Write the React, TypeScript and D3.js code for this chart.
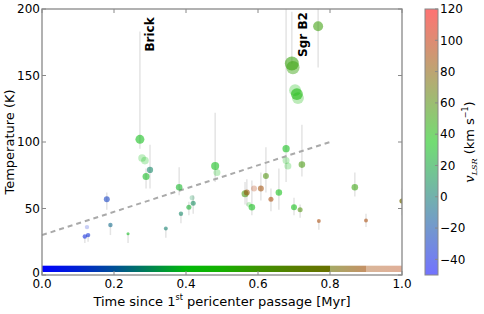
import React from 'react';
import * as d3 from 'd3';

// columns: time [Myr], temperature [K], v_LSR [km/s], T low, T high, marker size, weight
const clouds: [number, number, number, number, number, number, number][] = [
  [0.180, 57, -28, 49, 62, 18, 1],
  [0.125, 36, -35, 36, 36, 10, 0.4],
  [0.119, 29, -38, 24, 29, 10, 1],
  [0.128, 30, -35, 25, 30, 10, 1],
  [0.190, 37.6, -8, 30, 38, 10, 1],
  [0.239, 31, 30, 24, 31, 5, 1],
  [0.272, 102, 32, 95, 183, 41, 1],
  [0.278, 88, 32, 88, 88, 30, 0.45],
  [0.286, 86, 32, 86, 86, 30, 0.45],
  [0.300, 79, 5, 65, 98, 20, 1],
  [0.289, 74, 30, 65, 80, 25, 1],
  [0.344, 35, 2, 28, 35, 8, 1],
  [0.381, 66, 28, 60, 81, 22, 1],
  [0.386, 46, 5, 39, 46, 10, 1],
  [0.408, 51, 25, 45, 55, 13, 1],
  [0.417, 58, 12, 58, 58, 13, 0.45],
  [0.420, 54, 8, 46, 60, 13, 1],
  [0.481, 82, 32, 70, 122, 33, 1],
  [0.486, 77, 32, 77, 77, 25, 0.45],
  [0.564, 61, 55, 53, 70, 25, 1],
  [0.569, 62, 85, 52, 72, 18, 1],
  [0.575, 53, 35, 53, 53, 13, 0.4],
  [0.583, 51, 32, 45, 71, 22, 1],
  [0.589, 65, 95, 65, 65, 18, 0.5],
  [0.608, 65, 88, 56, 77, 18, 1],
  [0.622, 74.5, 58, 62, 96, 18, 1],
  [0.636, 57, 90, 48, 65, 13, 1],
  [0.658, 62, 33, 49, 80, 22, 1],
  [0.678, 95, 32, 70, 200, 27, 1],
  [0.678, 86, 32, 86, 86, 25, 0.45],
  [0.683, 82, 32, 82, 82, 25, 0.45],
  [0.700, 51, 33, 45, 58, 18, 1],
  [0.717, 49, 58, 43, 53, 13, 1],
  [0.722, 83, 55, 74, 113, 22, 1],
  [0.769, 40.6, 90, 34, 41, 8, 1],
  [0.869, 66, 50, 59, 77, 22, 1],
  [0.900, 41, 90, 36, 46, 8, 1],
  [1.000, 55.6, 75, 45, 65, 13, 1],
  [1.000, 55.6, 70, 55.6, 55.6, 13, 0.6],
  [0.694, 159, 50, 159, 198, 100, 1],
  [0.697, 156, 50, 156, 156, 90, 0.8],
  [0.703, 139, 38, 139, 139, 73, 0.5],
  [0.711, 133, 40, 133, 133, 73, 0.5],
  [0.708, 136, 40, 136, 136, 73, 1],
  [0.767, 187, 52, 156, 200, 51, 1],
];

// linear trend (dashed)
const trendTime = [0, 0.8];
const trendTemp = [30, 100];

// model v_LSR along the orbit (bottom strip)
const stripTime = [0, 0.1, 0.2, 0.3, 0.35, 0.4, 0.5, 0.6, 0.7, 0.8, 0.9, 1.0];
const stripVel = [-50, -35, -15, 8, 20, 32, 42, 55, 64, 70, 88, 95];
const stripSegments: [number, number, number][] = [
  [0, 0.8, 1],
  [0.8, 0.9, 0.6],
  [0.9, 1.0, 0.4],
];

const labels: [string, number, number][] = [
  ['Brick', 0.311, 168],
  ['Sgr B2', 0.736, 164],
];

const xTicks = [0, 0.2, 0.4, 0.6, 0.8, 1.0];
const yTicks = [0, 50, 100, 150, 200];
const cbTicks = [-40, -20, 0, 20, 40, 60, 80, 100, 120];

const W = 484, H = 314;
const m = { left: 42, right: 402, top: 9, bottom: 275 };

const App = () => {
  const x = d3.scaleLinear().domain([0, 1]).range([m.left, m.right]);
  const y = d3.scaleLinear().domain([0, 200]).range([m.bottom, m.top]);
  const r = d3.scaleSqrt().domain([0, 100]).range([0, 7]);
  const cmap = d3.scaleLinear<string>().domain([-50, 35, 120]).range(['#0000ff', '#00c000', '#ff0000']);
  const cbY = d3.scaleLinear().domain([-50, 120]).range([m.bottom, m.top]);
  const cbX0 = 425, cbX1 = 438;

  const trend = d3.line<number>().x((d, i) => x(trendTime[i])).y(d => y(d));
  const axisColor = '#888';
  const font = 'DejaVu Sans, sans-serif';

  return (
    <svg width={W} height={H} style={{ position: 'absolute', left: 0, top: 0, background: '#fff' }} fontFamily={font}>
      <defs>
        <clipPath id="plot">
          <rect x={m.left} y={m.top} width={m.right - m.left} height={m.bottom - m.top} />
        </clipPath>
        <linearGradient id="strip" gradientUnits="userSpaceOnUse" x1={x(0)} x2={x(1)} y1={0} y2={0}>
          {stripTime.map((t, i) => (
            <stop key={i} offset={t} stopColor={cmap(stripVel[i])} />
          ))}
        </linearGradient>
        <linearGradient id="cbar" x1={0} x2={0} y1={1} y2={0}>
          {d3.range(-50, 121, 5).map(v => (
            <stop key={v} offset={(v + 50) / 170} stopColor={cmap(v)} />
          ))}
        </linearGradient>
      </defs>

      <g clipPath="url(#plot)">
        {stripSegments.map(([a, b, op], i) => (
          <rect key={i} x={x(a)} width={x(b) - x(a)} y={y(7)} height={y(0) - y(7) - 3}
            fill="url(#strip)" opacity={op} />
        ))}
        {clouds.map((c, i) => (
          c[4] > c[3] ? <line key={'e' + i} x1={x(c[0])} x2={x(c[0])} y1={y(c[3])} y2={y(c[4])}
            stroke="#e4e4e4" strokeWidth={1.5} /> : null
        ))}
        <path d={trend(trendTemp) || ''} fill="none" stroke="#aaa" strokeWidth={2} strokeDasharray="5,4" />
        {clouds.map((c, i) => (
          <circle key={'c' + i} cx={x(c[0])} cy={y(c[1])} r={r(c[5])}
            fill={cmap(c[2])} fillOpacity={0.55 * c[6]} />
        ))}
      </g>

      {labels.map(([t, tx, ty]) => (
        <text key={t} transform={`translate(${x(tx)},${y(ty)}) rotate(-90)`} fontSize={12}
          fontWeight="bold" fill="#000">{t}</text>
      ))}

      <rect x={m.left} y={m.top} width={m.right - m.left} height={m.bottom - m.top}
        fill="none" stroke={axisColor} strokeWidth={1.3} />

      {xTicks.map(t => (
        <g key={'x' + t}>
          <line x1={x(t)} x2={x(t)} y1={m.bottom} y2={m.bottom - 4} stroke={axisColor} />
          <line x1={x(t)} x2={x(t)} y1={m.top} y2={m.top + 4} stroke={axisColor} />
          <text x={x(t)} y={m.bottom + 13} fontSize={12} textAnchor="middle">{d3.format('.1f')(t)}</text>
        </g>
      ))}
      {yTicks.map(t => (
        <g key={'y' + t}>
          <line x1={m.left} x2={m.left + 4} y1={y(t)} y2={y(t)} stroke={axisColor} />
          <line x1={m.right} x2={m.right - 4} y1={y(t)} y2={y(t)} stroke={axisColor} />
          <text x={m.left - 2} y={y(t)} dy={t === 0 ? '0.2em' : '0.36em'} fontSize={12} textAnchor="end">{t}</text>
        </g>
      ))}

      <text transform={`translate(14,${(m.top + m.bottom) / 2}) rotate(-90)`} fontSize={13} textAnchor="middle">
        Temperature (K)
      </text>
      <text x={(m.left + m.right) / 2} y={306} fontSize={13} textAnchor="middle">
        Time since 1<tspan fontSize={8} dy={-6}>st</tspan><tspan dy={6}> pericenter passage [Myr]</tspan>
      </text>

      <rect x={cbX0} y={m.top} width={cbX1 - cbX0} height={m.bottom - m.top} fill="url(#cbar)" opacity={0.55} />
      <rect x={cbX0} y={m.top} width={cbX1 - cbX0} height={m.bottom - m.top} fill="none" stroke={axisColor} strokeWidth={1} />
      {cbTicks.map(v => (
        <g key={'cb' + v}>
          <line x1={cbX1} x2={cbX1 - 3} y1={cbY(v)} y2={cbY(v)} stroke={axisColor} />
          <text x={cbX1 + 2} y={cbY(v)} dy="0.36em" fontSize={12}>{v < 0 ? '\u2212' + Math.abs(v) : v}</text>
        </g>
      ))}
      <text transform={`translate(474,${(m.top + m.bottom) / 2}) rotate(-90)`} fontSize={13} textAnchor="middle">
        <tspan fontFamily="DejaVu Serif, serif" fontStyle="italic">v</tspan>
        <tspan fontFamily="DejaVu Serif, serif" fontStyle="italic" fontSize={8} dy={3}>LSR</tspan>
        <tspan dy={-3}> (km s</tspan>
        <tspan fontSize={8} dy={-6}>{'\u22121'}</tspan>
        <tspan dy={6}>)</tspan>
      </text>
    </svg>
  );
};

export default App;
